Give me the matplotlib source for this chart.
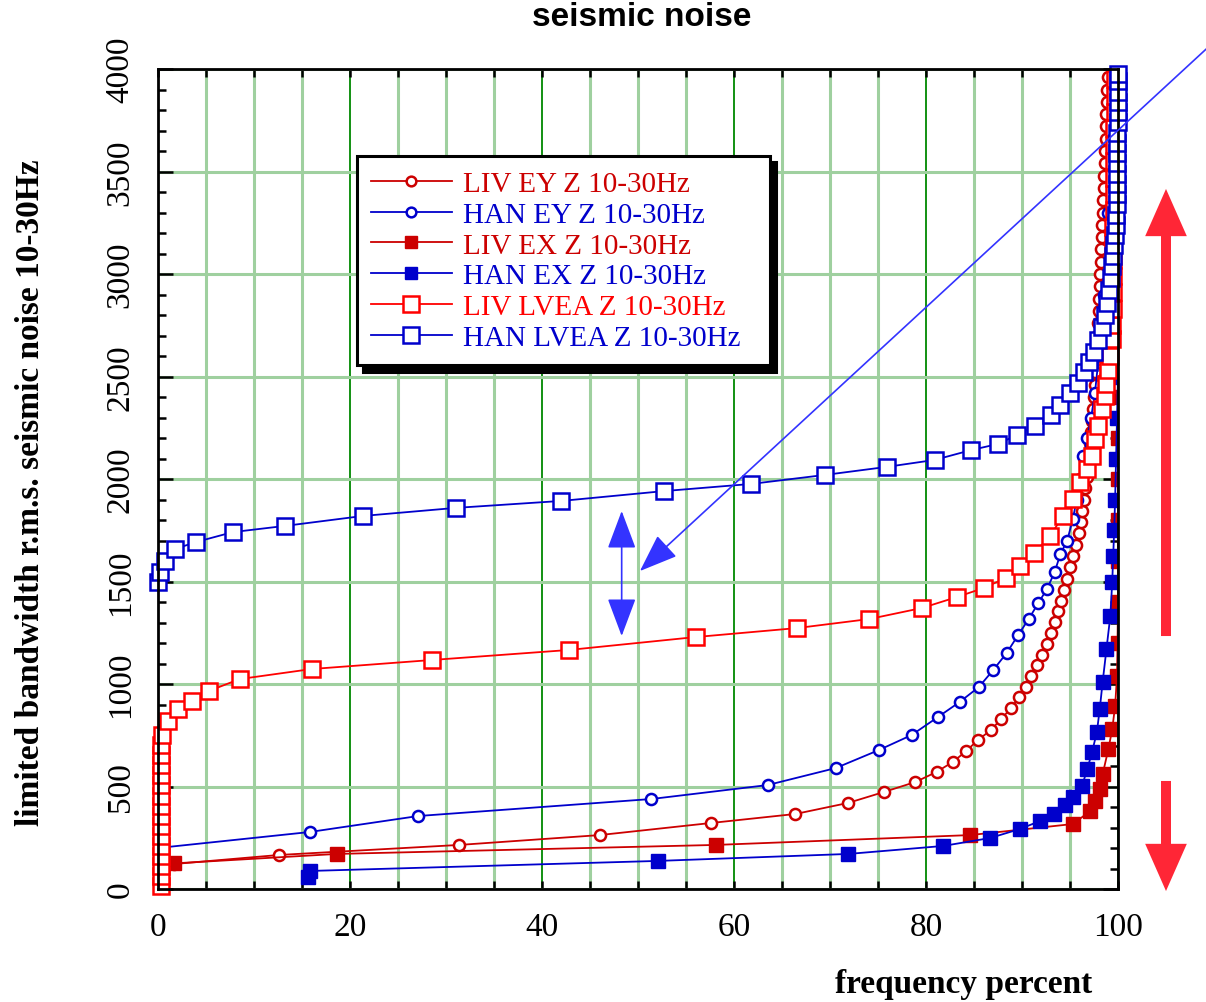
import matplotlib
matplotlib.use("Agg")
import matplotlib.pyplot as plt
from matplotlib.ticker import MultipleLocator

# data
liv_ey_x = [1.7, 12.6, 31.4, 46.0, 57.6, 66.4, 71.9, 75.6, 78.9, 81.1,
            82.8, 84.2, 85.4, 86.8, 87.8, 88.9, 89.7, 90.4, 90.9, 91.6,
            92.1, 92.6, 93.0, 93.4, 93.75, 94.1, 94.4, 94.7, 95.0, 95.3,
            95.6, 95.9, 96.1, 96.3, 96.5, 96.6, 96.8, 96.9, 97.0, 97.1,
            97.2, 97.3, 97.4, 97.5, 97.6, 97.65, 97.7, 97.8, 97.85, 97.9,
            98.0, 98.05, 98.1, 98.15, 98.2, 98.25, 98.3, 98.35, 98.4, 98.45,
            98.5, 98.55, 98.6, 98.65, 98.7, 98.75, 98.8, 98.85, 98.9, 98.95, 99.6]
liv_ey_y = [122, 166, 215, 263, 322, 366, 420, 473, 522, 571,
            620, 673, 727, 776, 829, 883, 937, 985, 1039, 1093,
            1141, 1195, 1249, 1302, 1356, 1405, 1459, 1512, 1571, 1625,
            1680, 1735, 1790, 1845, 1900, 1955, 2010, 2065, 2120, 2175,
            2230, 2285, 2340, 2400, 2460, 2520, 2580, 2640, 2700, 2760,
            2820, 2880, 2940, 3000, 3060, 3120, 3180, 3240, 3300, 3360,
            3420, 3480, 3540, 3600, 3660, 3720, 3780, 3840, 3900, 3960, 4100]

han_ey_x = [0, 15.8, 27.1, 51.4, 63.5, 70.6, 75.1, 78.5, 81.25, 83.5,
            85.5, 87.0, 88.4, 89.6, 90.7, 91.7, 92.6, 93.4, 94.0, 94.7,
            95.3, 95.7, 96.0, 96.4, 96.8, 97.2, 97.6, 98.0, 98.5, 99.0, 99.4, 99.7]
han_ey_y = [200, 278, 356, 439, 507, 590, 678, 751, 839, 912,
            985, 1068, 1151, 1239, 1317, 1395, 1463, 1546, 1634, 1698,
            1805, 1900, 2000, 2112, 2200, 2300, 2420, 2600, 2900, 3300, 3700, 4000]

liv_ex_x = [1.7, 18.6, 58.1, 84.6, 95.3, 97.1, 97.6, 98.1, 98.4, 99.0,
            99.4, 99.7, 99.9, 99.95, 100, 100, 100, 100, 100, 100, 100]
liv_ex_y = [125, 171, 215, 263, 317, 380, 430, 490, 560, 683,
            780, 893, 1039, 1200, 1400, 1600, 1800, 2000, 2200, 2400, 2600]

han_ex_x = [15.6, 15.8, 52.1, 71.9, 81.8, 86.7, 89.8, 91.9, 93.3, 94.5,
            95.3, 96.25, 96.8, 97.3, 97.8, 98.1, 98.4, 98.8, 99.2, 99.4,
            99.5, 99.6, 99.7, 99.8, 99.9, 100, 100]
han_ex_y = [59, 88, 137, 171, 210, 249, 293, 332, 366, 410,
            449, 502, 585, 668, 766, 878, 1010, 1171, 1332, 1498,
            1624, 1750, 1900, 2100, 2300, 2500, 3250]

liv_lvea_x = [0.3] * 15 + [0.4, 1.0, 2.1, 3.5, 5.3, 8.5, 16.0, 28.5, 42.8, 56.0,
              66.6, 74.1, 79.6, 83.2, 86.0, 88.3, 89.8, 91.3, 92.9, 94.3,
              95.3, 96.0, 96.8, 97.3, 97.6, 97.9, 98.3, 98.6, 98.8, 99.0,
              99.2, 99.4, 99.42, 99.44, 99.46, 99.48, 99.5, 99.5, 99.52, 99.54,
              99.56, 99.58, 99.6, 99.6, 99.62, 99.64, 99.66, 99.68]
liv_lvea_y = [15, 64, 113, 162, 211, 260, 309, 358, 407, 456, 505, 554, 603, 652, 701,
              750, 820, 878, 917, 966, 1024, 1073, 1117, 1166, 1229,
              1273, 1317, 1371, 1424, 1468, 1517, 1576, 1640, 1722, 1820,
              1902, 1985, 2049, 2112, 2195, 2259, 2341, 2405, 2463, 2530,
              2600, 2683, 2750, 2830, 2910, 2990, 3070, 3150, 3230, 3310,
              3390, 3470, 3550, 3630, 3710, 3790, 3870, 3950]

han_lvea_x = [0, 0.2, 0.7, 1.8, 4.0, 7.8, 13.2, 21.4, 31.0, 42.0,
              52.7, 61.8, 69.5, 75.9, 80.9, 84.7, 87.5, 89.5, 91.4, 93.0,
              94.0, 95.0, 95.8, 96.5, 97.0, 97.5, 97.9, 98.3, 98.6, 98.9,
              99.1, 99.3, 99.4, 99.5, 99.6, 99.7, 99.75, 99.8, 99.85, 99.9,
              99.9, 99.9, 99.92, 99.92, 99.94, 99.94, 99.96, 99.96, 99.98, 99.98, 100, 100]
han_lvea_y = [1498, 1546, 1600, 1659, 1693, 1741, 1771, 1820, 1859, 1893,
              1941, 1976, 2020, 2059, 2093, 2141, 2171, 2215, 2259, 2310,
              2360, 2420, 2470, 2520, 2570, 2620, 2680, 2740, 2800, 2860,
              2920, 2980, 3040, 3090, 3140, 3190, 3240, 3290, 3340, 3390,
              3440, 3490, 3540, 3590, 3640, 3690, 3740, 3790, 3840, 3890, 3940, 3975]

dark_red = "#cc0000"
red = "#ff0000"
blue = "#0000cc"
serif = "Liberation Serif"

fig = plt.figure(figsize=(12.06, 10.03), dpi=100)
ax = fig.add_axes([158/1206, 113/1003, 960/1206, 820/1003])

ax.plot(liv_ey_x, liv_ey_y, color=dark_red, lw=1.3, marker="o", ms=8, mfc="white",
        mec=dark_red, mew=1.8, label="LIV EY Z 10-30Hz")
ax.plot(han_ey_x, han_ey_y, color=blue, lw=1.3, marker="o", ms=8, mfc="white",
        mec=blue, mew=1.8, label="HAN EY Z 10-30Hz")
ax.plot(liv_ex_x, liv_ex_y, color=dark_red, lw=1.3, marker="s", ms=9.5,
        mfc=dark_red, mec=dark_red, label="LIV EX Z 10-30Hz")
ax.plot(han_ex_x, han_ex_y, color=blue, lw=1.3, marker="s", ms=9.5,
        mfc=blue, mec=blue, label="HAN EX Z 10-30Hz")
ax.plot(liv_lvea_x, liv_lvea_y, color=red, lw=1.3, marker="s", ms=12, mfc="white",
        mec=red, mew=1.8, label="LIV LVEA Z 10-30Hz", clip_on=False)
ax.plot(han_lvea_x, han_lvea_y, color=blue, lw=1.3, marker="s", ms=12, mfc="white",
        mec=blue, mew=1.8, label="HAN LVEA Z 10-30Hz", clip_on=False)

ax.set_xlim(0, 100)
ax.set_ylim(0, 4000)
ax.xaxis.set_major_locator(MultipleLocator(20))
ax.xaxis.set_minor_locator(MultipleLocator(5))
ax.yaxis.set_major_locator(MultipleLocator(500))
ax.yaxis.set_minor_locator(MultipleLocator(100))
ax.xaxis.grid(True, which="minor", color="#9fd09f", lw=2.2)
ax.xaxis.grid(True, which="major", color="#008800", lw=1.3)
ax.yaxis.grid(True, which="major", color="#9fd09f", lw=2.2)
ax.set_axisbelow(True)

for s in ax.spines.values():
    s.set_linewidth(2)
ax.tick_params(which="both", direction="in", top=True, right=True, width=1.8)
ax.tick_params(axis="x", which="both", length=6)
ax.tick_params(axis="y", which="major", length=11)
ax.tick_params(axis="y", which="minor", length=6)
ax.tick_params(axis="x", labelsize=24, pad=16)
ax.tick_params(axis="y", labelsize=24, pad=16)
for lab in ax.get_xticklabels():
    lab.set_fontfamily(serif)
for lab in ax.get_yticklabels():
    lab.set_fontfamily(serif)
    lab.set_rotation(90)
    lab.set_va("center")

ax.set_ylabel("limited bandwidth r.m.s. seismic noise 10-30Hz", fontfamily=serif,
              fontweight="bold", fontsize=24)
ax.yaxis.set_label_coords((46 - 158) / 960, 0.485)
fig.text(1092/1206, 1 - 985/1003, "frequency percent", fontfamily=serif,
         fontweight="bold", fontsize=24, ha="right", va="center")
fig.text(642/1206, 1 - 18/1003, "seismic noise",
         family=["Liberation Sans Narrow", "Liberation Sans"],
         fontweight="bold", fontsize=24, ha="center", va="center")

leg = ax.legend(loc="upper left", bbox_to_anchor=(0.207, 0.6366, 0.4305, 0.2574),
                mode="expand", borderaxespad=0,
                prop={"family": serif, "size": 21}, labelcolor="linecolor",
                frameon=True, fancybox=False, edgecolor="black", framealpha=1,
                shadow={"ox": 4.5, "oy": -4.5, "color": "black", "alpha": 1},
                handlelength=2.75, handletextpad=0.4, labelspacing=0.15,
                borderpad=0.5)
leg.get_frame().set_linewidth(2.2)
for h, ms in zip(leg.legend_handles, [7, 7, 8, 8, 11, 11]):
    h.set_markersize(ms)

# annotation arrows
ax.annotate("", xy=(50.2, 1551), xytext=(109.2, 4098), annotation_clip=False,
            arrowprops=dict(arrowstyle="-|>,head_length=1.2,head_width=0.45",
                            color="#3333ff", lw=1.2, shrinkA=0, shrinkB=0,
                            mutation_scale=20))
ax.annotate("", xy=(48.3, 1844), xytext=(48.3, 1234), annotation_clip=False,
            arrowprops=dict(arrowstyle="<|-|>,head_length=1.2,head_width=0.45",
                            color="#3333ff", lw=1.2, shrinkA=0, shrinkB=0,
                            mutation_scale=20))
ax.annotate("", xy=(105, 3415), xytext=(105, 1234), annotation_clip=False,
            arrowprops=dict(arrowstyle="simple,head_length=0.85,head_width=0.75,tail_width=0.18",
                            color="#ff2636", lw=0, shrinkA=0, shrinkB=0,
                            mutation_scale=40))
ax.annotate("", xy=(105, -10), xytext=(105, 527), annotation_clip=False,
            arrowprops=dict(arrowstyle="simple,head_length=0.85,head_width=0.75,tail_width=0.18",
                            color="#ff2636", lw=0, shrinkA=0, shrinkB=0,
                            mutation_scale=40))

fig.savefig("out.png", dpi=100)
